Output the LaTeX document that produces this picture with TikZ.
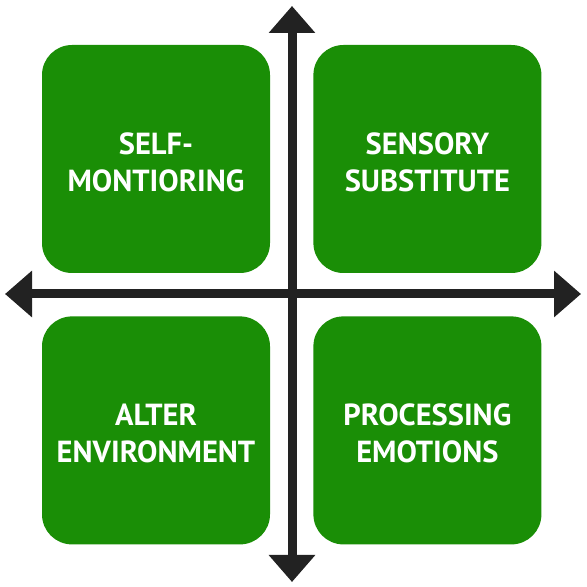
\documentclass[tikz,border=0pt]{standalone}
\usepackage{fontspec}
\setmainfont{PT Sans}
\usepackage{tikz}
\usetikzlibrary{positioning, arrows.meta}
\definecolor{boxgreen}{HTML}{1A8E06}
\definecolor{axisgray}{HTML}{222222}

\tikzset{
	quad/.style={fill=boxgreen, rounded corners=30pt, minimum size=228pt, inner sep=0pt},
	quadtext/.style={text=white, align=center, inner sep=0pt, yshift=-3pt,
		font=\fontsize{30.5}{37}\selectfont\bfseries},
	axis/.style={draw=axisgray, line width=9pt, {Triangle[width=45pt,length=27pt]}-{Triangle[width=45pt,length=27pt]}}
}

\begin{document}
\begin{tikzpicture}[x=1pt, y=1pt]
		\useasboundingbox (0,0) rectangle (587,587);
		\node[quad] (q0) at (156,428) {};
		\node[quad, right = 43pt of q0] (q1) {};
		\node[quad, below = 43pt of q0] (q2) {};
		\node[quad, below = 43pt of q1] (q3) {};
		
		\node[quadtext] (t0) at (q0) {SELF-\\MONTIORING};
		\node[quadtext] (t1) at (q1) {SENSORY\\SUBSTITUTE};
		\node[quadtext] (t2) at (q2) {ALTER\\ENVIRONMENT};
		\node[quadtext] (t3) at (q3) {PROCESSING\\EMOTIONS};
		
		\coordinate (top) at (292,581);
		\coordinate (bottom) at (292,5);
		\coordinate (left) at (5,293);
		\coordinate (right) at (581,293);
		
		\draw[axis] (bottom) -- (top);
		\draw[axis] (left) -- (right);
	\end{tikzpicture}
\end{document}
